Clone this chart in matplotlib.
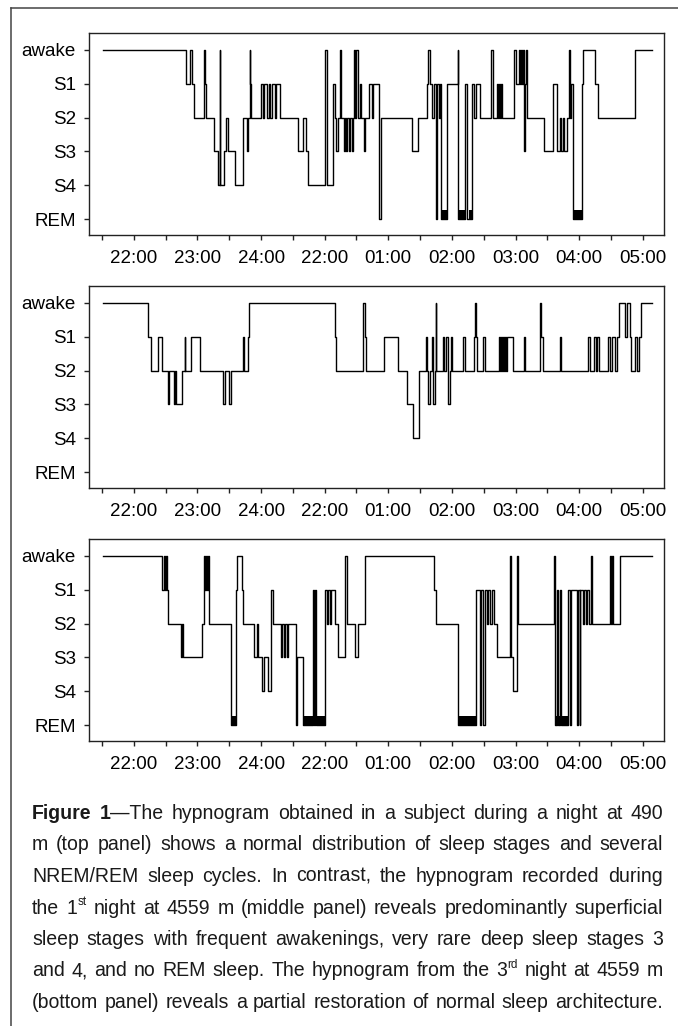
import re
import matplotlib
matplotlib.use('Agg')
import matplotlib.pyplot as plt
from matplotlib.lines import Line2D

plt.rcParams['font.family'] = ['Liberation Sans', 'DejaVu Sans']

W_PX, H_PX = 678, 1026

stage_names = ['REM', 'S4', 'S3', 'S2', 'S1', 'awake']
level = {'R': 0, '4': 1, '3': 2, '2': 3, '1': 4, 'W': 5}

# minutes after 22:00
hour_ticks = [0, 60, 120, 180, 240, 300, 360, 420, 480]
hour_labels = ['22:00', '23:00', '24:00', '22:00', '01:00', '02:00', '03:00', '04:00', '05:00']
half_ticks = [-30, 30, 90, 150, 210, 270, 330, 390, 450]

# (minute, stage) transitions
top_epochs = [
    (-29, 'W'), (49.3, '1'), (53.1, 'W'), (55.0, '1'), (56.9, '2'), (66.3, 'W'), (67.3, '1'), (68.2, '2'),
    (76.0, '3'), (79.2, '4'), (80.8, 'W'), (81.4, '4'), (85.2, '3'), (87.1, '2'), (89.0, '3'), (95.6, '4'),
    (102.5, '3'), (103.4, '2'), (106.6, '3'), (108.1, '2'), (109.1, 'W'), (110.0, '1'), (110.9, '2'),
    (119.5, '1'), (122.0, '2'), (123.2, '1'), (125.5, '2'), (127.0, '1'), (128.6, '2'), (130.2, '1'),
    (132.7, '2'), (133.6, '1'), (137.4, '2'), (154.7, '3'), (160.0, '2'), (162.5, '3'), (164.7, '4'),
    (180.5, 'W'), (182.0, '4'), (187.7, '1'), (189.3, '2'), (190.2, '3'), (192.1, '2'), (194.0, 'W'),
    (195.3, '2'), (197.8, '3'), (199.0, '2'), (200.3, '3'), (201.5, '2'), (202.8, '3'), (204.1, '2'),
    (205.3, '3'), (206.3, '2'), (207.2, 'W'), (208.8, '2'), (210.0, 'W'), (211.6, '2'), (212.9, '1'),
    (214.1, '2'), (216.9, '3'), (218.2, '2'), (222.0, '1'), (224.5, '2'), (225.4, '1'), (230.8, '2'),
    (231.7, 'R'), (233.3, '2'), (262.3, '3'), (267.9, '2'), (276.4, '1'), (277.0, 'W'), (279.5, '1'),
    (281.4, '2'), (283.3, '1'), (284.9, 'R'), (285.8, '1'), (287.4, '2'), (289.0, '1'), (289.9, 'R'),
    (295.3, '1'), (305.3, 'W'), (306.2, 'R'), (312.5, '1'), (313.8, 'R'), (319.2, '1'), (321.0, '2'),
    (322.3, '1'), (326.7, '2'), (337.1, 'W'), (338.3, '2'), (342.4, '1'), (343.4, '2'), (344.3, '1'),
    (345.6, '2'), (346.5, '1'), (347.5, '2'), (358.8, 'W'), (360.3, '1'), (362.9, 'W'), (364.1, '1'),
    (365.1, 'W'), (366.3, '1'), (367.3, 'W'), (368.2, '3'), (368.8, '1'), (369.8, 'W'), (370.7, '2'),
    (387.1, '3'), (395.3, '1'), (399.1, '3'), (401.5, '2'), (403.1, '3'), (404.7, '2'), (406.2, '3'),
    (408.5, '2'), (410.7, 'W'), (411.6, '2'), (412.8, '1'), (414.1, 'R'), (422.6, '1'), (424.1, 'W'),
    (435.2, '1'), (437.7, '2'), (472.9, 'W'), (488.7, 'W'),
]
top_rem = [(290.6, 295.3), (306.2, 311.9), (315.7, 318.9), (414.1, 422.6)]

mid_epochs = [
    (-29, 'W'), (13.2, '1'), (15.7, '2'), (22.6, '1'), (26.7, '2'), (32.0, '3'), (33.6, '2'), (37.7, '3'),
    (38.6, '2'), (39.9, '3'), (45.3, '2'), (47.8, '1'), (48.7, '2'), (54.1, '1'), (62.5, '2'), (84.2, '3'),
    (85.5, '2'), (89.9, '3'), (91.2, '2'), (103.1, '1'), (104.1, '2'), (107.8, '1'), (108.8, 'W'),
    (189.3, '1'), (190.8, '2'), (216.3, 'W'), (218.2, '1'), (219.2, '2'), (235.5, '1'), (249.6, '2'),
    (257.5, '3'), (263.2, '4'), (269.2, '2'), (275.1, '1'), (276.4, '2'), (277.4, '3'), (279.5, '2'),
    (280.8, '1'), (282.4, '3'), (283.6, '2'), (284.6, 'W'), (285.2, '2'), (291.5, '1'), (292.7, '2'),
    (294.6, '1'), (296.5, '3'), (297.8, '2'), (299.1, '1'), (300.3, '2'), (310.7, '1'), (311.9, '2'),
    (320.4, '1'), (321.7, 'W'), (322.6, '1'), (323.6, '2'), (329.8, '1'), (331.1, '2'), (344.0, '1'),
    (344.9, '2'), (346.2, '1'), (347.2, '2'), (348.1, '1'), (349.0, '2'), (350.0, '1'), (350.9, '2'),
    (351.9, '1'), (357.5, '2'), (368.2, '1'), (369.4, '2'), (383.3, 'W'), (384.2, '1'), (385.5, '2'),
    (401.5, '1'), (402.5, '2'), (428.0, '1'), (430.5, '2'), (434.5, '1'), (436.1, '2'), (437.1, '1'),
    (438.3, '2'), (447.2, '1'), (448.7, '2'), (451.2, '1'), (453.4, '2'), (455.7, '1'), (457.5, 'W'),
    (463.5, '1'), (465.1, 'W'), (467.6, '1'), (468.8, '2'), (472.9, '1'), (474.5, '2'), (476.1, '1'),
    (478.3, 'W'), (488.7, 'W'),
]
mid_rem = []

bot_epochs = [
    (-29, 'W'), (26.4, '1'), (28.0, 'W'), (29.2, '1'), (30.2, 'W'), (31.1, '1'), (32.4, '2'), (44.3, '3'),
    (45.3, '2'), (46.5, '3'), (63.8, '2'), (66.0, 'W'), (66.9, '1'), (67.9, 'W'), (68.8, '1'), (69.8, 'W'),
    (70.4, '1'), (71.0, '2'), (91.5, 'R'), (96.5, '1'), (97.5, 'W'), (102.2, '1'), (103.1, '2'),
    (113.2, '3'), (116.0, '2'), (117.3, '3'), (120.7, '4'), (123.2, '3'), (126.4, '4'), (128.9, '3'),
    (129.5, '1'), (130.8, '2'), (139.0, '3'), (140.2, '2'), (141.5, '3'), (142.7, '2'), (144.0, '3'),
    (145.2, '2'), (153.1, 'R'), (154.1, '3'), (159.4, 'R'), (168.8, '1'), (169.8, 'R'), (170.7, '1'),
    (171.7, 'R'), (180.5, '1'), (182.0, '2'), (183.3, '1'), (184.6, '2'), (185.8, '1'), (189.9, '2'),
    (192.1, '3'), (198.7, '2'), (199.6, 'W'), (200.6, '2'), (208.8, '3'), (211.3, '2'), (218.2, 'W'),
    (283.3, '1'), (284.9, '2'), (305.3, 'R'), (322.9, '1'), (326.7, 'R'), (327.6, '1'), (329.8, 'R'),
    (330.8, '1'), (333.0, '2'), (334.3, '1'), (336.1, '2'), (337.4, '1'), (339.9, '2'), (343.0, '3'),
    (354.4, 'W'), (355.3, '3'), (358.1, '4'), (361.3, 'W'), (362.3, '2'), (395.9, 'W'), (396.8, 'R'),
    (399.0, '1'), (400.3, 'R'), (402.2, '1'), (403.1, 'R'), (409.4, '1'), (411.6, 'R'), (412.5, '1'),
    (417.9, 'R'), (418.8, '1'), (420.4, 'R'), (421.3, '1'), (423.6, '2'), (424.8, '1'), (426.1, '2'),
    (427.3, '1'), (429.2, '2'), (431.4, 'W'), (432.4, '2'), (449.4, 'W'), (450.3, '2'), (451.2, 'W'),
    (452.2, '2'), (458.2, 'W'), (488.7, 'W'),
]
bot_rem = [(91.5, 97.1), (159.4, 169.5), (172.0, 180.5), (305.3, 323.6), (397.5, 409.4)]

caption_lines = [
    "*Figure* *1*\u2014The hypnogram obtained in a subject during a night at 490",
    "m (top panel) shows a normal distribution of sleep stages and several",
    "NREM/REM sleep cycles. In contrast, the hypnogram recorded during",
    "the 1^st night at 4559 m (middle panel) reveals predominantly superficial",
    "sleep stages with frequent awakenings, very rare deep sleep stages 3",
    "and 4, and no REM sleep. The hypnogram from the 3^rd night at 4559 m",
    "(bottom panel) reveals a partial restoration of normal sleep architecture.",
]

fig = plt.figure(figsize=(W_PX / 100, H_PX / 100), dpi=100)

# outer frame (left and top only)
fig.add_artist(Line2D([11 / W_PX, 11 / W_PX], [0, 1 - 8 / H_PX], transform=fig.transFigure,
                      color='#444444', lw=1.1))
fig.add_artist(Line2D([11 / W_PX, 1], [1 - 8 / H_PX, 1 - 8 / H_PX], transform=fig.transFigure,
                      color='#444444', lw=1.1))

panel_tops = [33, 286, 539]
panel_h = 202
ax_left, ax_w = 88.5, 575

for top, epochs, rem in zip(panel_tops, [top_epochs, mid_epochs, bot_epochs], [top_rem, mid_rem, bot_rem]):
    ax = fig.add_axes([ax_left / W_PX, 1 - (top + panel_h) / H_PX, ax_w / W_PX, panel_h / H_PX])
    t = [e[0] for e in epochs]
    y = [level[e[1]] for e in epochs]
    ax.step(t, y, where='post', color='black', lw=1.0)
    for a, b in rem:
        ax.fill_between([a, b], 0, 0.27, color='black', lw=0)
    ax.set_xlim(-42.8, 499.6)
    ax.set_ylim(-0.47, 5.5)
    ax.set_yticks(range(6))
    ax.set_yticklabels(stage_names)
    ax.set_xticks(hour_ticks)
    ax.set_xticklabels(hour_labels)
    ax.set_xticks(half_ticks, minor=True)
    ax.tick_params(which='both', direction='out', length=3.5, width=1, color='#222222',
                   labelsize=13.5, top=False, right=False)
    ax.tick_params(axis='y', pad=5.5)
    ax.tick_params(axis='x', pad=7.5)
    for sp in ax.spines.values():
        sp.set_linewidth(1.0)
        sp.set_color('#222222')

# justified caption
renderer = fig.canvas.get_renderer()


def parse_word(word):
    segs = []
    for piece in re.split(r'(\*[^*]+\*|\^[a-z]+)', word):
        if not piece:
            continue
        if piece.startswith('*'):
            segs.append((piece[1:-1], 'bold', 1.0, 0.0))
        elif piece.startswith('^'):
            segs.append((piece[1:], 'normal', 0.6, 0.42))
        else:
            segs.append((piece, 'normal', 1.0, 0.0))
    return segs


def text_width(s, size, weight):
    tx = fig.text(0, 0, s, fontsize=size, fontweight=weight)
    w = tx.get_window_extent(renderer).width
    tx.remove()
    return w


def word_width(segs, size):
    return sum(text_width(s, size * f, wt) for s, wt, f, r in segs)


cap_left, cap_right = 32, 663
base = 10
natural = []
for line in caption_lines:
    words = [parse_word(w) for w in line.split(' ')]
    total = sum(word_width(w, base) for w in words)
    space = text_width('x x', base, 'normal') - text_width('xx', base, 'normal')
    natural.append(total + space * (len(words) - 1))
cap_size = base * 0.985 * (cap_right - cap_left) / max(natural)

baseline0, pitch = 819, 31.5
for i, line in enumerate(caption_lines):
    words = [parse_word(w) for w in line.split(' ')]
    widths = [word_width(w, cap_size) for w in words]
    gap = (cap_right - cap_left - sum(widths)) / (len(words) - 1)
    x = cap_left
    yb = baseline0 + i * pitch
    for segs, wd in zip(words, widths):
        xs = x
        for s, wt, f, r in segs:
            fig.text(xs / W_PX, 1 - (yb - r * cap_size * 1.39) / H_PX, s, fontsize=cap_size * f,
                     fontweight=wt, va='baseline', ha='left', color='#1a1a1a')
            xs += text_width(s, cap_size * f, wt)
        x += wd + gap

fig.savefig('out.png', dpi=100)
